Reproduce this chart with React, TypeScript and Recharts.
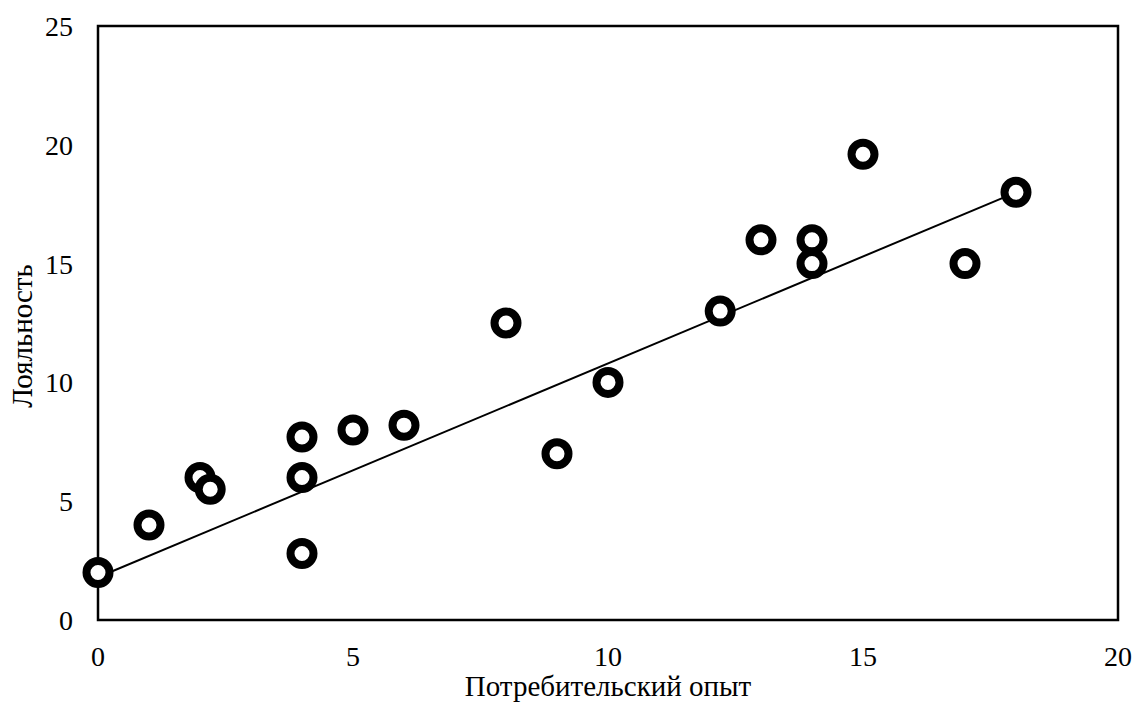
import * as React from "react";
import {
  Label,
  ReferenceArea,
  Scatter,
  ScatterChart,
  XAxis,
  YAxis,
} from "recharts";

const experience = [0, 1, 2, 2.2, 4, 4, 4, 5, 6, 8, 9, 10, 12.2, 13, 14, 14, 15, 17, 18];
const loyalty = [2, 4, 6, 5.5, 7.7, 6, 2.8, 8, 8.2, 12.5, 7, 10, 13, 16, 16, 15, 19.6, 15, 18];

// trend line end points
const trendX = [0, 18];
const trendY = [1.8, 18];

const xTicks = [0, 5, 10, 15, 20];
const yTicks = [0, 5, 10, 15, 20, 25];

const points = experience.map((x, i) => ({ x, y: loyalty[i] }));
const trend = trendX.map((x, i) => ({ x, y: trendY[i] }));

const FONT = "'Liberation Serif', 'Times New Roman', serif";
const TICK = { fill: "#000", fontSize: 28, fontFamily: FONT } as const;

function Ring(props: any) {
  const { cx, cy } = props;
  return <circle cx={cx} cy={cy} r={11.5} fill="#fff" stroke="#000" strokeWidth={8} />;
}

function YTitle({ viewBox }: any) {
  const x = 22;
  const y = viewBox.y + viewBox.height / 2 + 13;
  return (
    <text
      x={x}
      y={y}
      transform={`rotate(-90, ${x}, ${y})`}
      textAnchor="middle"
      dominantBaseline="central"
      fill="#000"
      fontSize={29}
      fontFamily={FONT}
    >
      Лояльность
    </text>
  );
}

export default function App() {
  return (
    <div style={{ position: "absolute", left: 0, top: 0, background: "#fff" }}>
      <ScatterChart width={1137} height={709} margin={{ top: 26, right: 19, bottom: 0, left: 0 }}>
        <XAxis
          type="number"
          dataKey="x"
          domain={[0, 20]}
          ticks={xTicks}
          axisLine={false}
          tickLine={false}
          tickSize={0}
          tickMargin={26}
          tick={TICK}
          height={89}
        >
          <Label
            value="Потребительский опыт"
            position="insideBottom"
            offset={13}
            fill="#000"
            fontSize={29}
            fontFamily={FONT}
          />
        </XAxis>
        <YAxis
          type="number"
          dataKey="y"
          domain={[0, 25]}
          ticks={yTicks}
          axisLine={false}
          tickLine={false}
          tickSize={0}
          tickMargin={25}
          tick={TICK}
          width={98}
        >
          <Label content={<YTitle />} />
        </YAxis>
        <ReferenceArea x1={0} x2={20} y1={0} y2={25} fill="none" stroke="#000" strokeWidth={2.5} fillOpacity={0} />
        <Scatter
          data={trend}
          line={{ stroke: "#000", strokeWidth: 2 }}
          shape={() => <g />}
          isAnimationActive={false}
        />
        <Scatter data={points} shape={<Ring />} isAnimationActive={false} />
      </ScatterChart>
    </div>
  );
}
